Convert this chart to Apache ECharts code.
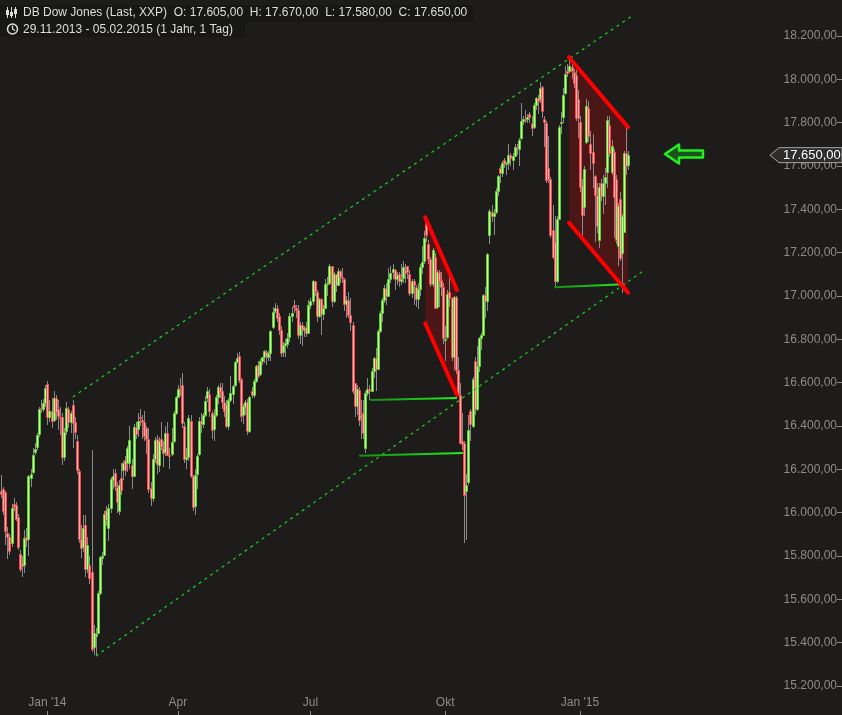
<!DOCTYPE html>
<html><head><meta charset="utf-8">
<script src="https://cdn.jsdelivr.net/npm/echarts@6/dist/echarts.min.js"></script>
<style>html,body{margin:0;padding:0;background:#1d1c1b;}#c{width:842px;height:715px;}</style>
</head><body><div id="c"></div><script>
// ---- trading days (DB quote calendar) ----
const monthDays = [
 ['2013-11',[29]],
 ['2013-12',[2,3,4,5,6,9,10,11,12,13,16,17,18,19,20,23,24,26,27,30,31]],
 ['2014-01',[2,3,6,7,8,9,10,13,14,15,16,17,21,22,23,24,27,28,29,30,31]],
 ['2014-02',[3,4,5,6,7,10,11,12,13,14,18,19,20,21,24,25,26,27,28]],
 ['2014-03',[3,4,5,6,7,10,11,12,13,14,17,18,19,20,21,24,25,26,27,28,31]],
 ['2014-04',[1,2,3,4,7,8,9,10,11,14,15,16,17,21,22,23,24,25,28,29,30]],
 ['2014-05',[1,2,5,6,7,8,9,12,13,14,15,16,19,20,21,22,23,27,28,29,30]],
 ['2014-06',[2,3,4,5,6,9,10,11,12,13,16,17,18,19,20,23,24,25,26,27,30]],
 ['2014-07',[1,2,3,7,8,9,10,11,14,15,16,17,18,21,22,23,24,25,28,29,30,31]],
 ['2014-08',[1,4,5,6,7,8,11,12,13,14,15,18,19,20,21,22,25,26,27,28,29]],
 ['2014-09',[2,3,4,5,8,9,10,11,12,15,16,17,18,19,22,23,24,25,26,29,30]],
 ['2014-10',[1,2,3,6,7,8,9,10,13,14,15,16,17,20,21,22,23,24,27,28,29,30,31]],
 ['2014-11',[3,4,5,6,7,10,11,12,13,14,17,18,19,20,21,24,25,26,28]],
 ['2014-12',[1,2,3,4,5,8,9,10,11,12,15,16,17,18,19,22,23,24,26,29,30,31]],
 ['2015-01',[2,5,6,7,8,9,12,13,14,15,16,19,20,21,22,23,26,27,28,29,30]],
 ['2015-02',[2,3,4,5]]
];
const dates = [];
monthDays.forEach(([m, days]) => days.forEach(d => dates.push(m + '-' + String(d).padStart(2, '0'))));

// ---- daily candles: [open, close, low, high] ----
const ohlc = [
 [16098,16086,16070,16174],
 // Dec 2013
 [16110,16008,15990,16120],[16095,15914,15853,16100],[15905,15889,15784,15935],[15888,15821,15803,15900],
 [15860,16020,15840,16040],[16040,16025,16010,16068],[16035,15973,15960,16050],[15980,15843,15830,15995],
 [15810,15739,15725,15830],[15767,15755,15705,15800],[15760,15884,15720,15920],[15888,15875,15840,15930],
 [15880,16167,15800,16175],[16160,16179,16120,16200],[16190,16266,16180,16300],[16280,16294,16265,16320],
 [16303,16357,16290,16370],[16363,16479,16350,16490],[16483,16478,16460,16520],[16480,16504,16465,16525],
 [16505,16577,16490,16590],
 // Jan 2014
 [16594,16441,16405,16610],[16440,16470,16420,16520],[16470,16425,16390,16530],[16430,16531,16420,16560],
 [16530,16463,16430,16545],[16480,16444,16380,16520],[16440,16437,16360,16490],[16440,16257,16220,16460],
 [16258,16374,16240,16390],[16375,16481,16360,16510],[16480,16418,16390,16490],[16420,16459,16370,16470],
 [16495,16415,16300,16520],[16418,16373,16340,16440],[16330,16197,16180,16360],[16194,15879,15860,16200],
 [15880,15838,15790,15945],[15840,15929,15820,15990],[15945,15739,15705,15990],[15740,15849,15720,15890],
 [15760,15699,15670,15800],
 // Feb 2014
 [15727,15373,15356,16290],[15380,15445,15341,15480],[15430,15441,15340,15470],[15445,15628,15440,15640],
 [15630,15794,15620,15800],[15790,15801,15760,15820],[15805,15994,15800,16010],[16012,15964,15940,16030],
 [15930,16020,15868,16040],[16020,16154,16000,16165],[16150,16170,16110,16200],[16185,16125,16100,16200],
 [16120,16050,16000,16140],[16010,16130,15990,16150],[16160,16105,16080,16230],[16197,16229,16150,16240],
 [16243,16197,16170,16260],[16229,16298,16190,16310],[16229,16335,16200,16400],
 // Mar 2014
 [16220,16168,16110,16250],[16170,16396,16165,16410],[16396,16361,16340,16420],[16385,16422,16350,16460],
 [16440,16437,16400,16480],[16430,16419,16340,16450],[16420,16352,16330,16470],[16390,16340,16270,16400],
 [16340,16109,16090,16390],[16115,16066,16030,16140],[16066,16248,16050,16270],[16250,16337,16230,16350],
 [16340,16223,16180,16360],[16220,16332,16190,16350],[16340,16303,16290,16420],[16300,16277,16210,16330],
 [16280,16368,16260,16400],[16370,16268,16260,16420],[16268,16265,16200,16300],[16270,16324,16260,16390],
 [16330,16458,16320,16470],
 // Apr 2014
 [16460,16533,16450,16540],[16535,16573,16530,16590],[16575,16572,16540,16620],[16590,16413,16390,16645],
 [16400,16246,16230,16420],[16250,16257,16200,16300],[16257,16438,16240,16450],[16425,16171,16160,16450],
 [16171,16027,16010,16175],[16030,16174,15990,16200],[16180,16263,16110,16270],[16270,16425,16260,16440],
 [16425,16409,16370,16460],[16410,16450,16390,16460],[16450,16515,16440,16540],[16530,16560,16510,16580],
 [16550,16470,16440,16570],[16460,16382,16340,16470],[16385,16449,16330,16480],[16450,16535,16440,16545],
 [16535,16581,16500,16590],
 // May 2014
 [16580,16559,16530,16600],[16560,16513,16480,16600],[16510,16470,16440,16540],[16500,16402,16390,16520],
 [16402,16519,16380,16530],[16519,16551,16510,16630],[16550,16584,16500,16590],[16590,16696,16580,16700],
 [16696,16715,16690,16735],[16725,16614,16600,16740],[16615,16447,16420,16620],[16450,16492,16410,16500],
 [16490,16512,16450,16520],[16510,16375,16360,16525],[16375,16533,16370,16540],[16560,16543,16530,16580],
 [16543,16606,16530,16615],[16610,16676,16600,16680],[16680,16633,16620,16700],[16640,16699,16630,16710],
 [16700,16717,16680,16720],
 // Jun 2014
 [16720,16744,16690,16750],[16740,16723,16680,16750],[16720,16738,16700,16745],[16735,16837,16700,16845],
 [16857,16924,16850,16950],[16930,16944,16920,16970],[16945,16900,16880,16960],[16910,16844,16820,16920],
 [16845,16735,16720,16860],[16740,16776,16720,16790],[16775,16782,16720,16800],[16780,16808,16760,16830],
 [16810,16907,16790,16920],[16910,16921,16880,16950],[16960,16948,16920,16980],[16945,16937,16900,16960],
 [16935,16819,16800,16960],[16820,16868,16780,16880],[16868,16847,16770,16880],[16845,16852,16810,16860],
 [16855,16827,16810,16880],
 // Jul 2014
 [16830,16957,16825,16980],[16957,16977,16940,16990],[16977,17068,16960,17075],[17068,17025,17000,17070],
 [17020,16906,16880,17030],[16906,16985,16900,16990],[16985,16915,16820,16990],[16915,16944,16890,16960],
 [16944,17055,16940,17080],[17055,17061,17000,17090],[17061,17139,17050,17150],[17139,16977,16950,17140],
 [16977,17100,16970,17110],[17100,17052,17020,17100],[17052,17114,17050,17130],[17114,17087,17060,17120],
 [17087,17084,17060,17130],[17080,16961,16930,17085],[16961,16983,16900,17000],[16983,16912,16900,17020],
 [16912,16881,16840,16990],[16866,16563,16550,16880],
 // Aug 2014
 [16598,16493,16440,16600],[16493,16570,16450,16590],[16565,16430,16400,16580],[16440,16444,16340,16520],
 [16460,16368,16340,16520],[16300,16554,16275,16560],[16554,16570,16540,16620],[16570,16561,16520,16590],
 [16561,16652,16560,16670],[16652,16713,16620,16720],[16713,16663,16560,16760],[16663,16839,16660,16850],
 [16839,16920,16830,16930],[16920,16980,16880,16990],[16980,17039,16970,17050],[17039,17001,16960,17060],
 [17001,17077,17000,17130],[17077,17106,17060,17140],[17110,17123,17080,17150],[17120,17079,17030,17125],
 [17079,17098,17050,17110],
 // Sep 2014
 [17100,17068,17040,17110],[17070,17079,17050,17150],[17085,17134,17060,17160],[17122,17108,17060,17150],
 [17138,17112,17080,17140],[17100,17014,17000,17120],[17014,17068,16990,17080],[17068,17050,16960,17080],
 [17040,16988,16950,17050],[16988,17031,16940,17060],[17031,17132,17000,17150],[17132,17157,17100,17230],
 [17160,17266,17150,17300],[17340,17280,17250,17350],[17240,17173,17150,17260],[17170,17056,17040,17180],
 [17056,17211,17040,17220],[17180,16946,16940,17200],[16950,17113,16940,17120],[17110,17071,16950,17120],
 [17075,17043,17000,17110],
 // Oct 2014
 [17040,16805,16780,17060],[16800,16802,16700,16860],[16810,17009,16800,17030],[17020,16992,16950,17090],
 [16990,16720,16700,16995],[16720,16995,16660,17000],[16995,16660,16640,17000],[16660,16544,16540,16720],
 [16544,16322,16320,16600],[16330,16316,16290,16460],[16320,16080,15860,16330],[16100,16130,15875,16180],
 [16140,16380,16130,16450],[16470,16410,16330,16480],[16400,16615,16390,16625],[16700,16480,16450,16720],
 [16480,16678,16470,16770],[16678,16805,16650,16810],[16805,16818,16750,16830],[16818,17006,16815,17010],
 [17006,16975,16900,17040],[16975,17196,16930,17200],[17282,17391,17240,17400],
 // Nov 2014
 [17390,17367,17340,17420],[17367,17384,17280,17400],[17390,17485,17380,17500],[17485,17555,17460,17560],
 [17590,17570,17520,17600],[17570,17614,17550,17625],[17630,17615,17590,17635],[17610,17612,17560,17620],
 [17615,17652,17580,17700],[17652,17635,17600,17660],[17630,17648,17580,17660],[17648,17688,17640,17700],
 [17688,17686,17650,17700],[17680,17720,17600,17730],[17730,17810,17720,17890],[17810,17818,17790,17830],
 [17818,17815,17800,17860],[17815,17828,17800,17840],[17840,17828,17800,17850],
 // Dec 2014
 [17800,17777,17740,17830],[17780,17880,17770,17890],[17880,17913,17860,17920],[17913,17901,17840,17930],
 [17910,17959,17890,17990],[17965,17853,17820,17970],[17817,17801,17690,17830],[17800,17534,17520,17810],
 [17591,17540,17520,17740],[17540,17281,17270,17550],[17305,17181,17170,17420],[17250,17069,17040,17370],
 [17069,17357,17060,17370],[17357,17779,17350,17790],[17798,17805,17750,17850],[17826,17928,17800,17960],
 [17937,18024,17930,18060],[18040,18031,18010,18070],[18040,18062,18030,18103],[18055,18039,18000,18080],
 [18034,17984,17960,18050],[18020,17823,17810,18045],
 // Jan 2015
 [17910,17820,17730,17950],[17803,17502,17480,17830],[17512,17372,17260,17540],[17411,17585,17370,17600],
 [17711,17877,17700,17910],[17868,17738,17710,17900],[17702,17660,17580,17760],[17665,17614,17500,17750],
 [17554,17466,17250,17560],[17466,17321,17290,17520],[17258,17503,17220,17520],[17522,17460,17440,17540],
 [17460,17522,17380,17560],[17522,17549,17420,17590],[17572,17812,17500,17830],[17789,17660,17640,17830],
 [17572,17693,17560,17720],[17665,17457,17270,17680],[17540,17258,17240,17560],[17230,17417,17140,17430],
 [17448,17175,17160,17480],
 // Feb 2015
 [17198,17369,17015,17380],[17295,17660,17290,17670],[17660,17600,17560,17780],[17605,17650,17580,17670]
];

// ---- axis labels ----
const tickDates = ['2014-01-02','2014-04-02','2014-07-02','2014-10-02','2015-01-05'];
const tickTexts = ["Jan '14", 'Apr', 'Jul', 'Okt', "Jan '15"];
const lastPrice = 17650;

// ---- drawn annotations (category index, price) ----
const channelUpper = [[34.1, 16534], [300.4, 18297]];
const channelLower = [[45.0, 15338], [305.7, 17120]];
const supportLines = [
 [[175.3, 16520], [216.6, 16529]],
 [[170.1, 16263], [219.4, 16275]],
 [[262.9, 17040], [296.0, 17054]]
];
const wedges = [
 { top: [[201.5, 17363], [216.6, 17028]], bottom: [[201.5, 16874], [216.6, 16543]] },
 { top: [[269.8, 18102], [297.9, 17779]], bottom: [[269.8, 17338], [297.9, 17015]] }
];

const N = 400;
const cats = dates.slice();
for (let k = dates.length; k < N; k++) cats.push('pad' + k);
const tickSet = new Set(tickDates);

function fmtDE(v) {
  const s = Math.round(v).toString();
  return s.replace(/\B(?=(\d{3})+(?!\d))/g, '.') + ',00';
}

const chart = echarts.init(document.getElementById('c'), null, { renderer: 'canvas' });

function line(points, style, z) {
  return { type: 'line', xAxisIndex: 1, yAxisIndex: 0, data: points, symbol: 'none', silent: true,
           clip: false, z: z, lineStyle: style, animation: false };
}
const greenGrad = { type: 'linear', x: 0, y: 0, x2: 1, y2: 0,
  colorStops: [{ offset: 0, color: '#138a13' }, { offset: 1, color: '#22f022' }] };

const series = [
  {
    type: 'custom', xAxisIndex: 1, yAxisIndex: 0, z: 1, silent: true, clip: false,
    data: wedges.map(w => [w.top[0][0], w.top[0][1]]),
    renderItem: (params, api) => {
      const w = wedges[params.dataIndex];
      const pts = [w.top[0], w.top[1], w.bottom[1], w.bottom[0]].map(p => api.coord(p));
      return { type: 'polygon', shape: { points: pts }, style: { fill: '#4a1616' } };
    }
  },
  {
    type: 'custom', xAxisIndex: 1, yAxisIndex: 0, z: 2, silent: true,
    data: ohlc.map((r, i) => [i, r[0], r[1], r[2], r[3]]),
    encode: { x: 0, y: [1, 2, 3, 4] },
    renderItem: (params, api) => {
      const i = api.value(0), o = api.value(1), c = api.value(2), l = api.value(3), h = api.value(4);
      const pO = api.coord([i, o]), pC = api.coord([i, c]), pL = api.coord([i, l]), pH = api.coord([i, h]);
      const xr = Math.round(pO[0]);
      const up = c >= o;
      let top = Math.round(Math.min(pO[1], pC[1])), bot = Math.round(Math.max(pO[1], pC[1]));
      if (bot - top < 1) bot = top + 1;
      return { type: 'group', children: [
        { type: 'line', shape: { x1: xr + 0.5, y1: Math.round(pH[1]), x2: xr + 0.5, y2: Math.round(pL[1]) },
          style: { stroke: '#8a8a8a', lineWidth: 1 } },
        { type: 'rect', shape: { x: xr - 0.5, y: top + 0.5, width: 2, height: bot - top },
          style: { fill: up ? '#c6f7a2' : '#ffb0b0', stroke: up ? '#5ed02c' : '#f04a4a', lineWidth: 1 } }
      ] };
    }
  },
  line(channelUpper, { color: '#1fc41f', width: 1.3, type: [3, 4] }, 3),
  line(channelLower, { color: '#1fc41f', width: 1.3, type: [3, 4] }, 3),
  ...supportLines.map(p => line(p, { color: greenGrad, width: 2 }, 4)),
  ...wedges.map(w => line(w.top, { color: '#ff0000', width: 4, cap: 'round' }, 5)),
  ...wedges.map(w => line(w.bottom, { color: '#ff0000', width: 4, cap: 'round' }, 5))
];

chart.setOption({
  backgroundColor: '#1d1c1b',
  animation: false,
  grid: { left: -2, right: 0, top: 36, bottom: 29 },
  xAxis: [
    {
      type: 'category', data: cats, boundaryGap: true, position: 'bottom', offset: 29,
      axisLine: { show: false, onZero: false },
      axisTick: { show: true, inside: true, length: 4, alignWithLabel: true,
                  interval: (idx, val) => tickSet.has(val), lineStyle: { color: '#8c8c8c' } },
      axisLabel: { inside: true, margin: 6, interval: (idx, val) => tickSet.has(val),
                   formatter: (val) => { const k = tickDates.indexOf(val); return k >= 0 ? tickTexts[k] : ''; },
                   color: '#8c8c8c', fontSize: 12, fontFamily: 'Liberation Sans' },
      splitLine: { show: false }
    },
    { type: 'value', min: -0.5, max: N - 0.5, show: false, axisLine: { onZero: false } }
  ],
  yAxis: {
    type: 'value', position: 'right', min: 15200, max: 18200, interval: 200,
    axisLine: { show: false, onZero: false }, splitLine: { show: false },
    axisTick: { show: true, inside: true, length: 5, lineStyle: { color: '#8c8c8c' } },
    axisLabel: { inside: true, margin: 5, color: '#8c8c8c', fontSize: 12, fontFamily: 'Liberation Sans',
                 formatter: fmtDE }
  },
  series: series
});

const py = chart.convertToPixel({ yAxisIndex: 0 }, lastPrice);
const txt = { fill: '#dedede', font: '12px "Liberation Sans"', verticalAlign: 'middle' };
chart.setOption({
  graphic: [
    { type: 'rect', shape: { x: 0, y: 5, width: 474, height: 17 }, style: { fill: '#171716' }, z: 10 },
    { type: 'rect', shape: { x: 0, y: 21, width: 245, height: 16 }, style: { fill: '#171716' }, z: 10 },
    // candle icon
    { type: 'line', shape: { x1: 7.5, y1: 7, x2: 7.5, y2: 18 }, style: { stroke: '#dedede', lineWidth: 1 }, z: 11 },
    { type: 'rect', shape: { x: 6, y: 10, width: 3, height: 5 }, style: { fill: '#dedede' }, z: 11 },
    { type: 'line', shape: { x1: 11.5, y1: 7, x2: 11.5, y2: 18 }, style: { stroke: '#dedede', lineWidth: 1 }, z: 11 },
    { type: 'rect', shape: { x: 10, y: 12, width: 3, height: 4 }, style: { fill: '#dedede' }, z: 11 },
    { type: 'line', shape: { x1: 15.5, y1: 7, x2: 15.5, y2: 18 }, style: { stroke: '#dedede', lineWidth: 1 }, z: 11 },
    { type: 'rect', shape: { x: 14, y: 9, width: 3, height: 5 }, style: { fill: '#dedede' }, z: 11 },
    { type: 'text', x: 23, y: 13, style: Object.assign({ text: 'DB Dow Jones (Last, XXP)  O: 17.605,00  H: 17.670,00  L: 17.580,00  C: 17.650,00' }, txt), z: 11 },
    // clock icon
    { type: 'circle', shape: { cx: 12.5, cy: 29, r: 5 }, style: { fill: 'none', stroke: '#dedede', lineWidth: 1.5 }, z: 11 },
    { type: 'polyline', shape: { points: [[12.5, 25.5], [12.5, 29], [15, 30.5]] }, style: { stroke: '#dedede', lineWidth: 1.3, fill: 'none' }, z: 11 },
    { type: 'text', x: 23, y: 29.5, style: Object.assign({ text: '29.11.2013 - 05.02.2015 (1 Jahr, 1 Tag)' }, txt), z: 11 },
    // green arrow
    { type: 'polygon', shape: { points: [[665, 154], [679, 144.5], [679, 150.5], [703, 150.5], [703, 157.5], [679, 157.5], [679, 163.5]] },
      style: { fill: '#1b531b', stroke: '#22ee22', lineWidth: 2.5, lineJoin: 'round' }, z: 11 },
    // last price marker
    { type: 'polygon', shape: { points: [[770, py], [779, py - 7.5], [842, py - 7.5], [842, py + 7.5], [779, py + 7.5]] },
      style: { fill: '#2c2c2c', stroke: '#a8a8a8', lineWidth: 1 }, z: 11 },
    { type: 'text', x: 783, y: py + 0.5, style: { text: fmtDE(lastPrice), fill: '#ffffff', font: '13px "Liberation Sans"', verticalAlign: 'middle' }, z: 12 }
  ]
});
</script></body></html>
